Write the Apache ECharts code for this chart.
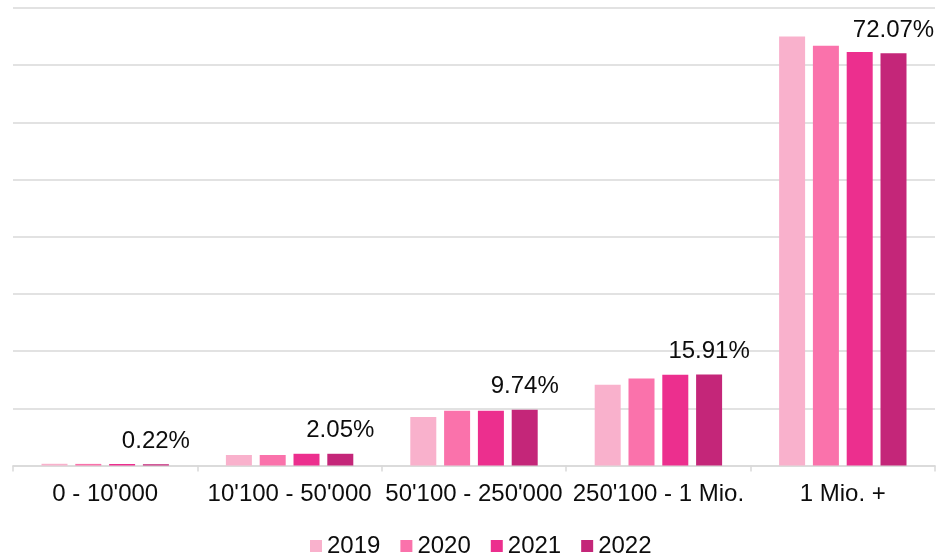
<!DOCTYPE html>
<html>
<head>
<meta charset="utf-8">
<script src="https://cdn.jsdelivr.net/npm/echarts@6/dist/echarts.min.js"></script>
<style>
html,body{margin:0;padding:0;background:#fff;}
#chart{width:950px;height:558px;}
</style>
</head>
<body>
<div id="chart"></div>
<script>
var categories = ["0 - 10'000", "10'100 - 50'000", "50'100 - 250'000", "250'100 - 1 Mio.", "1 Mio. +"];
var years = ["2019", "2020", "2021", "2022"];
var v2019 = [0.30, 1.84, 8.5, 14.1, 75.0];
var v2020 = [0.28, 1.84, 9.56, 15.2, 73.4];
var v2021 = [0.26, 2.05, 9.56, 15.85, 72.3];
var v2022 = [0.22, 2.05, 9.74, 15.91, 72.07];
var colors = ["#F9B1CC", "#FA72AB", "#EC2F8E", "#C42679"];
var seriesValues = [v2019, v2020, v2021, v2022];

var FONT = "'Liberation Sans', Arial, sans-serif";
var chart = echarts.init(document.getElementById('chart'), null, {renderer: 'canvas'});
var series = years.map(function (y, i) {
  var s = {
    name: y,
    type: 'bar',
    data: seriesValues[i],
    barWidth: 26,
    barGap: '30%',
    itemStyle: {color: colors[i]}
  };
  if (i === 3) {
    s.label = {
      show: true,
      position: 'top',
      distance: 11,
      fontFamily: FONT,
      fontSize: 24,
      color: '#0d0d0d',
      formatter: function (p) { return p.value.toFixed(2) + '%'; }
    };
  }
  return s;
});
chart.setOption({
  animation: false,
  textStyle: {fontFamily: FONT},
  grid: {left: 13, right: 15, top: 8, bottom: 92.5, containLabel: false},
  legend: {
    data: years,
    bottom: 0,
    padding: 0,
    left: 310,
    icon: 'rect',
    itemWidth: 12,
    itemHeight: 12,
    itemGap: 20,
    textStyle: {fontFamily: FONT, fontSize: 24, color: '#0d0d0d'}
  },
  xAxis: {
    type: 'category',
    data: categories,
    axisLine: {lineStyle: {color: '#d9d9d9', width: 1.5}},
    axisTick: {show: true, length: 6, lineStyle: {color: '#d9d9d9', width: 1.5}},
    axisLabel: {fontFamily: FONT, fontSize: 24, color: '#0d0d0d', margin: 17, interval: 0}
  },
  yAxis: {
    type: 'value',
    min: 0,
    max: 80,
    interval: 10,
    axisLabel: {show: false},
    axisLine: {show: false},
    axisTick: {show: false},
    splitLine: {lineStyle: {color: '#d9d9d9', width: 1.5}}
  },
  series: series
});
</script>
</body>
</html>
